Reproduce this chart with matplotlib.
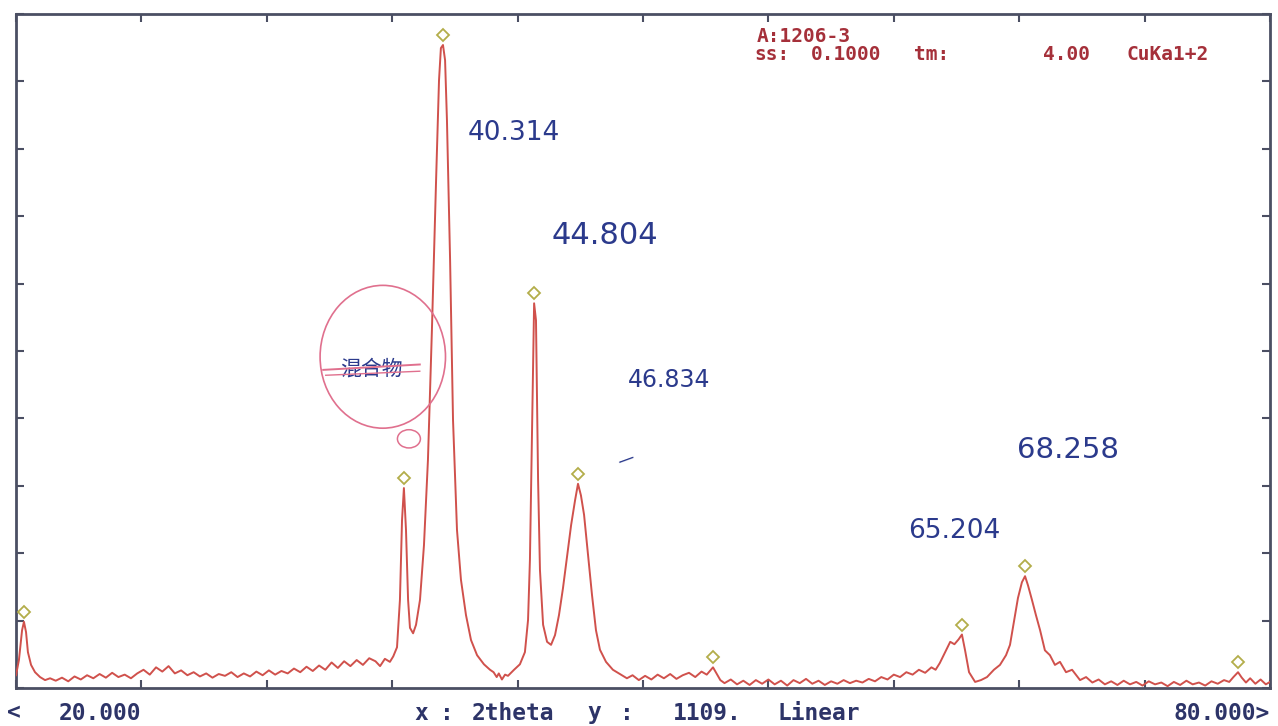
"""Recreate a scanned XRD pattern (2theta 20-80 deg, CuKa1+2) with its hand annotations."""

import matplotlib
matplotlib.use("Agg")
import matplotlib.pyplot as plt
import matplotlib.transforms as mtransforms
from matplotlib.patches import Ellipse
import numpy as np

# ---- data (2theta in degrees, intensity in counts) ----
two_theta = [
    20.00, 20.14, 20.29, 20.38, 20.48, 20.57, 20.72, 20.91, 21.15, 21.39, 21.63,
    21.9, 22.2, 22.5, 22.8, 23.1, 23.4, 23.7, 24.0, 24.3, 24.6, 24.9, 25.2, 25.5, 25.8,
    26.1, 26.4, 26.7, 27.0, 27.3, 27.6, 27.9, 28.2, 28.5, 28.8, 29.1, 29.4, 29.7, 30.0,
    30.3, 30.6, 30.9, 31.2, 31.5, 31.8, 32.1, 32.4, 32.7, 33.0, 33.3, 33.6, 33.9, 34.2,
    34.5, 34.8, 35.1, 35.4, 35.7, 36.0, 36.3, 36.6, 36.9, 37.2, 37.42, 37.65, 37.89,
    38.05, 38.23, 38.37, 38.47, 38.56, 38.66, 38.76, 38.85, 39.0, 39.14, 39.33, 39.52,
    39.71, 39.90, 40.10, 40.24, 40.33, 40.43, 40.53, 40.62, 40.77, 40.91, 41.10, 41.29,
    41.53, 41.77, 42.06, 42.39, 42.68, 42.85, 43.0, 43.1, 43.25, 43.4, 43.54, 43.83,
    44.11, 44.35, 44.50, 44.59, 44.70, 44.79, 44.88, 44.98, 45.07, 45.22, 45.41, 45.60,
    45.79, 45.98, 46.17, 46.36, 46.56, 46.75, 46.89, 47.03, 47.18, 47.37, 47.56, 47.75,
    47.94, 48.23, 48.56, 48.90, 49.23,
    49.5, 49.8, 50.1, 50.4, 50.7, 51.0, 51.3, 51.6, 51.9, 52.2, 52.5, 52.8, 53.05,
    53.2, 53.35, 53.5, 53.7, 53.9,
    54.2, 54.5, 54.8, 55.1, 55.4, 55.7, 56.0, 56.3, 56.6, 56.9, 57.2, 57.5, 57.8, 58.1,
    58.4, 58.7, 59.0, 59.3, 59.6, 59.9, 60.2, 60.5, 60.8, 61.1, 61.4, 61.7, 62.0, 62.3,
    62.6, 62.9, 63.2, 63.5, 63.8, 64.0, 64.2, 64.5, 64.7, 64.9, 65.1, 65.26, 65.41,
    65.6, 65.89, 66.17, 66.46, 66.79, 67.08, 67.37, 67.56, 67.75, 67.94, 68.13, 68.28,
    68.42, 68.61, 68.80, 69.0, 69.23, 69.47, 69.71, 69.95, 70.24, 70.53, 70.91,
    71.2, 71.5, 71.8, 72.1, 72.4, 72.7, 73.0, 73.3, 73.6, 73.9, 74.2, 74.5, 74.8, 75.1,
    75.4, 75.7, 76.0, 76.3, 76.6, 76.9, 77.2, 77.5, 77.8, 78.05, 78.25, 78.47, 78.65,
    78.85, 79.05, 79.3, 79.55, 79.8, 80.0,
]
counts = [
    21, 46, 95, 109, 92, 59, 38, 26, 18, 13, 16,
    12, 17, 11, 19, 14, 21, 16, 23, 17, 25, 18, 22, 16, 24,
    30, 22, 34, 27, 36, 24, 29, 21, 26, 19, 24, 17, 23, 20,
    26, 18, 24, 19, 27, 21, 29, 22, 28, 24, 32, 26, 35, 28,
    37, 30, 42, 33, 44, 36, 46, 38, 49, 44, 36, 48, 43,
    52, 67, 145, 276, 329, 260, 145, 99, 90, 104, 145, 235,
    375, 589, 836, 1000, 1053, 1058, 1033, 934, 704, 441, 260, 178,
    120, 79, 54, 39, 30, 26, 18, 24, 14, 22, 20, 30,
    39, 59, 112, 211, 441, 633, 605, 342, 194, 104, 76, 71,
    87, 120, 164, 214, 268, 309, 336, 317, 285, 219, 153, 95,
    63, 43, 30, 23, 16,
    21, 13, 20, 14, 22, 16, 23, 15, 21, 25, 18, 27, 22,
    28, 34, 25, 13, 8,
    14, 6, 12, 5, 13, 7, 14, 6, 12, 4, 13, 8, 15, 7,
    12, 5, 11, 7, 13, 8, 12, 9, 15, 11, 18, 14, 22, 18,
    26, 22, 30, 25, 34, 30, 41, 62, 76, 72, 80, 88, 62,
    26, 10, 13, 18, 30, 38, 54, 71, 109, 148, 174, 184,
    169, 145, 120, 95, 62, 54, 38, 43, 26, 30, 13,
    18, 9, 14, 6, 11, 5, 12, 6, 10, 4, 11, 6, 9, 3,
    10, 5, 12, 6, 9, 4, 11, 7, 13, 10, 18, 26, 17,
    9, 16, 7, 14, 6, 10,
]

# peaks picked by the instrument software (diamond markers)
peak_theta = [20.38, 38.56, 40.43, 44.79, 46.89, 53.35, 65.26, 68.28, 78.47]
peak_counts = [109, 329, 1058, 633, 336, 34, 88, 184, 26]

# hand-written peak positions on the printout
note_labels = ["40.314", "44.804", "46.834", "65.204", "68.258"]

# printer header / footer words
header_words = ["A:1206-3", "ss:", "0.1000", "tm:", "4.00", "CuKa1+2"]
footer_words = ["<", "20.000", "x", ":", "2theta", "y", ":", "1109.", "Linear", "80.000>"]

Y_FULL_SCALE = 1109

COLORS = {
    "trace": "#d0514c",
    "marker": "#b3ad4a",
    "frame": "#4b4f63",
    "header": "#a5303a",
    "footer": "#2d3468",
    "ink": "#2b3a8c",
    "pink": "#e0708e",
}

W, H = 1278, 726
fig = plt.figure(figsize=(W / 100, H / 100), dpi=100)
ax = fig.add_axes([16 / W, 38 / H, 1254 / W, 674 / H])

ax.plot(two_theta, counts, color=COLORS["trace"], linewidth=1.4, zorder=3)

marker_shift = mtransforms.offset_copy(ax.transData, fig=fig, x=0, y=10, units="dots")
ax.plot(
    peak_theta,
    peak_counts,
    linestyle="none",
    marker="D",
    markersize=6.5,
    markerfacecolor="white",
    markeredgecolor=COLORS["marker"],
    markeredgewidth=1.3,
    transform=marker_shift,
    zorder=4,
)

ax.set_xlim(20, 80)
ax.set_ylim(0, Y_FULL_SCALE)
ax.set_xticks(np.arange(20, 81, 6))
ax.set_yticks(np.linspace(0, Y_FULL_SCALE, 11))
ax.tick_params(
    direction="in", length=6, width=1.5, colors=COLORS["frame"],
    top=True, right=True, labelbottom=False, labelleft=False,
)
for spine in ax.spines.values():
    spine.set_color(COLORS["frame"])
    spine.set_linewidth(2)

# instrument header / footer text (wide printer font: words placed at their centres)
mono = {"family": "DejaVu Sans Mono", "weight": "bold", "ha": "center", "va": "center"}
header_pos = [(804, 36), (772, 54), (846, 54), (932, 54), (1067, 54), (1168, 54)]
for word, (px, py) in zip(header_words, header_pos):
    fig.text(px / W, 1 - py / H, word, color=COLORS["header"], fontsize=14, **mono)

footer_pos = [14, 100, 421, 447, 513, 594, 627, 707, 819, 1222]
for word, px in zip(footer_words, footer_pos):
    fig.text(px / W, 1 - 713 / H, word, color=COLORS["footer"], fontsize=16.5, **mono)

# hand-written notes
note_xy = [(43.83, 913), (48.18, 745), (51.24, 507), (64.88, 258), (70.33, 392)]
note_size = [19, 22, 17, 19, 21]
for label, (nx, ny), size in zip(note_labels, note_xy, note_size):
    ax.text(nx, ny, label, color=COLORS["ink"], fontsize=size, ha="center", va="center",
            family="DejaVu Sans", zorder=5)
ax.text(49.19, 377, "\u2014", color=COLORS["ink"], fontsize=12, rotation=20,
        ha="center", va="center", zorder=5)

# crossed-out note circled in pink
ax.text(36.99, 526, "混合物", color=COLORS["ink"], fontsize=15, ha="center", va="center",
        family=["Noto Sans CJK SC", "DejaVu Sans"], zorder=5)
ax.plot([0.245, 0.322], [0.472, 0.480], transform=ax.transAxes, color=COLORS["pink"],
        linewidth=1.4, zorder=6)
ax.plot([0.247, 0.322], [0.464, 0.470], transform=ax.transAxes, color=COLORS["pink"],
        linewidth=1.0, zorder=6)
ax.add_patch(Ellipse((37.55, 545), width=6.0, height=235, angle=0, fill=False,
                     edgecolor=COLORS["pink"], linewidth=1.2, zorder=5))
ax.add_patch(Ellipse((38.8, 410), width=1.1, height=30, angle=0, fill=False,
                     edgecolor=COLORS["pink"], linewidth=1.1, zorder=5))

fig.savefig("out.png", dpi=100)
